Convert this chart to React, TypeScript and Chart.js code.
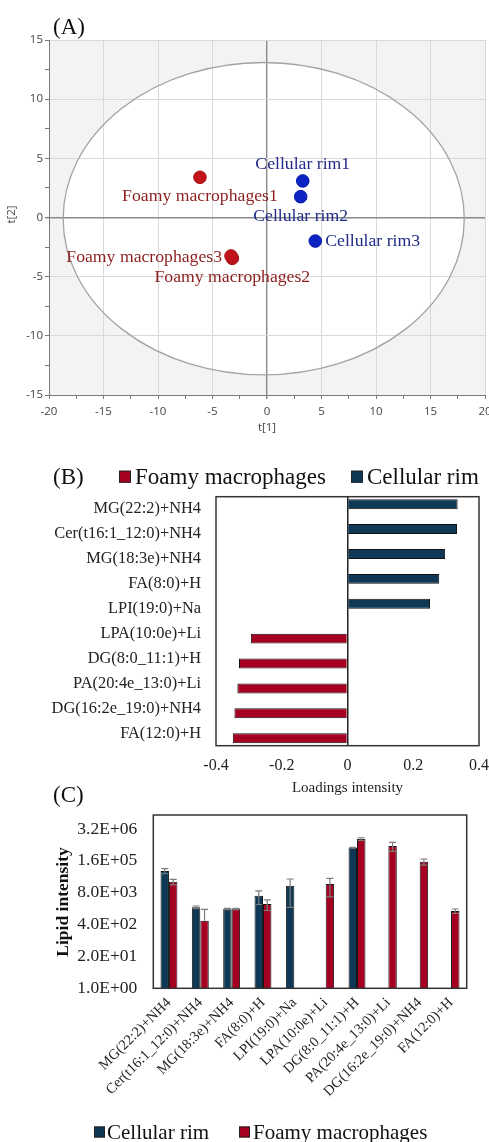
import React, { useEffect, useRef } from 'react';
import { Chart, registerables } from 'chart.js';

Chart.register(...registerables);

const SERIF = '"Liberation Serif", "Times New Roman", Times, serif';
const SANS = '"Open Sans", "Noto Sans", "DejaVu Sans", sans-serif';

const FOAMY_RED = '#a50021';
const RIM_NAVY = '#0e3856';

// ---------- Panel A: score plot ----------
const foamyScoreNames = ['Foamy macrophages1', 'Foamy macrophages2', 'Foamy macrophages3'];
const foamyScoreT1 = [-6.15, -3.18, -3.3];
const foamyScoreT2 = [3.4, -3.45, -3.25];
const rimScoreNames = ['Cellular rim1', 'Cellular rim2', 'Cellular rim3'];
const rimScoreT1 = [3.28, 3.09, 4.43];
const rimScoreT2 = [3.09, 1.76, -1.99];
const scoreT1Range = [-20, 20];
const scoreT2Range = [-15, 15];
const ellipseCenter = [-0.3, -0.1];
const ellipseRadii = [18.4, 13.2];

// ---------- Panel B: loadings ----------
const lipids = [
  'MG(22:2)+NH4',
  'Cer(t16:1_12:0)+NH4',
  'MG(18:3e)+NH4',
  'FA(8:0)+H',
  'LPI(19:0)+Na',
  'LPA(10:0e)+Li',
  'DG(8:0_11:1)+H',
  'PA(20:4e_13:0)+Li',
  'DG(16:2e_19:0)+NH4',
  'FA(12:0)+H',
];
const loadingRim = [0.335, 0.333, 0.297, 0.279, 0.251, null, null, null, null, null];
const loadingFoamy = [null, null, null, null, null, -0.294, -0.33, -0.335, -0.344, -0.349];
const loadingTicks = [-0.4, -0.2, 0, 0.2, 0.4];

// ---------- Panel C: lipid intensity ----------
const intensityRim = [62000, 2030, 1730, 6040, 15500, null, 550000, null, null, null];
const intensityRimErr = [14500, 260, 100, 3400, 13500, null, 20000, null, null, null];
const intensityFoamy = [22500, 575, 1730, 2770, null, 18200, 1250000, 646000, 148000, 1430];
const intensityFoamyErr = [5700, 1100, 100, 1270, null, 12800, 150000, 260000, 42000, 300];
const intensityTicks = [1, 20, 400, 8000, 160000, 3200000];
const intensityMax = 1.19e7;

// ---------- label placement (style only) ----------
const foamyLabelPlace = [
  { dx: 0, dy: 19, align: 'center' },
  { dx: 0, dy: 19, align: 'center' },
  { dx: -9, dy: 1, align: 'right' },
];
const rimLabelPlace = [
  { dx: 0, dy: -17, align: 'center' },
  { dx: 0, dy: 20, align: 'center' },
  { dx: 10, dy: 0, align: 'left' },
];

const isMult = (v: number, m: number) => Math.abs(v / m - Math.round(v / m)) < 1e-6;

const sci = (v: any) => {
  const [m, e] = Number(v).toExponential(1).split('e');
  const sign = e[0] === '-' ? '-' : '+';
  const d = e.replace(/^[+-]/, '').padStart(2, '0');
  return `${m}E${sign}${d}`;
};

const noPadX = (h: number) => (s: any) => {
  s.height = h;
  s.paddingLeft = 0;
  s.paddingRight = 0;
};
const noPadY = (w: number) => (s: any) => {
  s.width = w;
  s.paddingTop = 0;
  s.paddingBottom = 0;
};

function useChart(ref: any, make: () => any) {
  useEffect(() => {
    const chart = new Chart(ref.current, make());
    return () => chart.destroy();
  }, []);
}

function drawLegend(ctx: any, items: any[], y: number, size: number, box: number) {
  ctx.save();
  ctx.font = `${size}px ${SERIF}`;
  ctx.textBaseline = 'middle';
  ctx.textAlign = 'left';
  items.forEach((it) => {
    ctx.fillStyle = it.color;
    ctx.fillRect(it.x, y - box / 2, box, box);
    ctx.strokeStyle = '#222';
    ctx.lineWidth = 1;
    ctx.strokeRect(it.x + 0.5, y - box / 2 + 0.5, box - 1, box - 1);
    ctx.fillStyle = '#111';
    ctx.fillText(it.text, it.tx, y + 1);
  });
  ctx.restore();
}

function ellipsePath(ctx: any, x: any, y: any) {
  const cx = x.getPixelForValue(ellipseCenter[0]);
  const cy = y.getPixelForValue(ellipseCenter[1]);
  const rx = Math.abs(x.getPixelForValue(ellipseCenter[0] + ellipseRadii[0]) - cx);
  const ry = Math.abs(y.getPixelForValue(ellipseCenter[1] + ellipseRadii[1]) - cy);
  ctx.beginPath();
  ctx.ellipse(cx, cy, rx, ry, 0, 0, Math.PI * 2);
}

function ScorePlot() {
  const ref = useRef<HTMLCanvasElement>(null);
  useChart(ref, () => {
    const gridColor = (c: any) => {
      const v = c.tick ? c.tick.value : undefined;
      if (v === undefined) return 'rgba(0,0,0,0)';
      if (Math.abs(v) < 1e-9) return '#8a8a8a';
      return isMult(v, 5) ? '#d9d9d9' : 'rgba(0,0,0,0)';
    };
    const gridWidth = (c: any) => (c.tick && Math.abs(c.tick.value) < 1e-9 ? 1.4 : 1);
    const tickFont = { family: SANS, size: 11.5 };
    const decor = {
      id: 'scoreDecor',
      beforeDraw(chart: any) {
        const { ctx, chartArea: a, scales } = chart;
        ctx.save();
        ctx.fillStyle = '#f3f3f3';
        ctx.fillRect(a.left, a.top, a.right - a.left, a.bottom - a.top);
        ellipsePath(ctx, scales.x, scales.y);
        ctx.fillStyle = '#ffffff';
        ctx.fill();
        ctx.restore();
      },
      beforeDatasetsDraw(chart: any) {
        const { ctx, scales } = chart;
        ctx.save();
        ellipsePath(ctx, scales.x, scales.y);
        ctx.strokeStyle = '#a3a3a3';
        ctx.lineWidth = 1.3;
        ctx.stroke();
        ctx.restore();
      },
      afterDatasetsDraw(chart: any) {
        const { ctx } = chart;
        const groups = [
          { names: foamyScoreNames, place: foamyLabelPlace, color: '#8b1f1f' },
          { names: rimScoreNames, place: rimLabelPlace, color: '#1f2b86' },
        ];
        ctx.save();
        ctx.font = `17.7px ${SERIF}`;
        ctx.textBaseline = 'middle';
        groups.forEach((g, di) => {
          const meta = chart.getDatasetMeta(di);
          meta.data.forEach((el: any, i: number) => {
            const p = g.place[i];
            ctx.fillStyle = g.color;
            ctx.textAlign = p.align;
            ctx.fillText(g.names[i], el.x + p.dx, el.y + p.dy);
          });
        });
        ctx.restore();
      },
      afterDraw(chart: any) {
        const { ctx, chartArea: a } = chart;
        ctx.save();
        ctx.font = `11.5px ${SANS}`;
        ctx.fillStyle = '#444';
        ctx.textAlign = 'center';
        ctx.textBaseline = 'middle';
        ctx.fillText('t[1]', (a.left + a.right) / 2, 428);
        ctx.translate(12, (a.top + a.bottom) / 2 - 3);
        ctx.rotate(-Math.PI / 2);
        ctx.fillText('t[2]', 0, 0);
        ctx.restore();
      },
    };
    return {
      type: 'scatter',
      data: {
        datasets: [
          {
            label: 'Foamy macrophages',
            data: foamyScoreT1.map((t1, i) => ({ x: t1, y: foamyScoreT2[i] })),
            backgroundColor: '#c0141a',
            borderColor: '#a80f14',
            borderWidth: 1,
            pointRadius: 6.3,
          },
          {
            label: 'Cellular rim',
            data: rimScoreT1.map((t1, i) => ({ x: t1, y: rimScoreT2[i] })),
            backgroundColor: '#0d24c4',
            borderColor: '#0a1ca8',
            borderWidth: 1,
            pointRadius: 6.3,
          },
        ],
      },
      options: {
        responsive: false,
        animation: false,
        layout: { autoPadding: false, padding: { left: 0, top: 40, right: 4, bottom: 0 } },
        plugins: { legend: { display: false }, tooltip: { enabled: false } },
        scales: {
          x: {
            type: 'linear',
            min: scoreT1Range[0],
            max: scoreT1Range[1],
            ticks: {
              stepSize: 2.5,
              autoSkip: false,
              maxRotation: 0,
              padding: 6,
              color: '#444',
              font: tickFont,
              callback: (v: any) => (isMult(v, 5) ? String(Math.round(v)) : ''),
            },
            grid: { color: gridColor, lineWidth: gridWidth, tickColor: '#7a7a7a', tickLength: 4 },
            border: { color: '#7a7a7a', width: 1 },
            afterFit: noPadX(45),
          },
          y: {
            type: 'linear',
            min: scoreT2Range[0],
            max: scoreT2Range[1],
            ticks: {
              stepSize: 2.5,
              autoSkip: false,
              padding: 2,
              color: '#444',
              font: tickFont,
              callback: (v: any) => (isMult(v, 5) ? String(Math.round(v)) : ''),
            },
            grid: { color: gridColor, lineWidth: gridWidth, tickColor: '#7a7a7a', tickLength: 4 },
            border: { color: '#7a7a7a', width: 1 },
            afterFit: noPadY(49),
          },
        },
      },
      plugins: [decor],
    };
  });
  return <canvas ref={ref} width={489} height={440} style={{ position: 'absolute', left: 0, top: 0 }} />;
}

function LoadingsPlot() {
  const ref = useRef<HTMLCanvasElement>(null);
  useChart(ref, () => {
    const decor = {
      id: 'loadDecor',
      afterDraw(chart: any) {
        const { ctx, chartArea: a } = chart;
        ctx.save();
        ctx.strokeStyle = '#333';
        ctx.lineWidth = 1.5;
        ctx.strokeRect(a.left, a.top, a.right - a.left, a.bottom - a.top);
        ctx.font = `15px ${SERIF}`;
        ctx.fillStyle = '#222';
        ctx.textAlign = 'center';
        ctx.textBaseline = 'middle';
        ctx.fillText('Loadings intensity', (a.left + a.right) / 2, 348);
        ctx.restore();
        drawLegend(
          ctx,
          [
            { color: FOAMY_RED, x: 119, tx: 135, text: 'Foamy macrophages' },
            { color: RIM_NAVY, x: 351, tx: 367, text: 'Cellular rim' },
          ],
          36.7,
          23,
          12
        );
      },
    };
    return {
      type: 'bar',
      data: {
        labels: lipids,
        datasets: [
          { label: 'Cellular rim', data: loadingRim, backgroundColor: RIM_NAVY, borderColor: '#111', borderWidth: 1 },
          { label: 'Foamy macrophages', data: loadingFoamy, backgroundColor: FOAMY_RED, borderColor: '#111', borderWidth: 1 },
        ],
      },
      options: {
        indexAxis: 'y',
        responsive: false,
        animation: false,
        layout: { autoPadding: false, padding: { left: 0, right: 10, top: 56.7, bottom: 0 } },
        datasets: { bar: { categoryPercentage: 0.8, barPercentage: 1 } },
        plugins: { legend: { display: false }, tooltip: { enabled: false } },
        scales: {
          x: {
            type: 'linear',
            min: loadingTicks[0],
            max: loadingTicks[loadingTicks.length - 1],
            afterBuildTicks: (s: any) => {
              s.ticks = loadingTicks.map((value) => ({ value }));
            },
            ticks: {
              maxRotation: 0,
              autoSkip: false,
              padding: 10,
              color: '#222',
              font: { family: SERIF, size: 16 },
              callback: (v: any) => (Math.abs(v) < 1e-9 ? '0' : Number(v).toFixed(1)),
            },
            grid: {
              drawTicks: false,
              color: (c: any) => (c.tick && Math.abs(c.tick.value) < 1e-9 ? '#222' : 'rgba(0,0,0,0)'),
              lineWidth: 1.5,
            },
            border: { display: false },
            afterFit: noPadX(54.3),
          },
          y: {
            type: 'category',
            ticks: { autoSkip: false, padding: 15, color: '#222', font: { family: SERIF, size: 16.4 } },
            grid: { display: false, drawTicks: false },
            border: { display: false },
            afterFit: noPadY(216),
          },
        },
      },
      plugins: [decor],
    };
  });
  return <canvas ref={ref} width={489} height={360} style={{ position: 'absolute', left: 0, top: 440 }} />;
}

function IntensityPlot() {
  const ref = useRef<HTMLCanvasElement>(null);
  useChart(ref, () => {
    const errs = [intensityRimErr, intensityFoamyErr];
    const decor = {
      id: 'intDecor',
      afterDatasetsDraw(chart: any) {
        const { ctx } = chart;
        const y = chart.scales.y;
        ctx.save();
        ctx.strokeStyle = '#7d7d7d';
        ctx.lineWidth = 1.2;
        chart.data.datasets.forEach((ds: any, di: number) => {
          const meta = chart.getDatasetMeta(di);
          meta.data.forEach((el: any, i: number) => {
            const v = ds.data[i];
            const e = errs[di][i];
            if (v == null || e == null) return;
            const px = el.x;
            const top = y.getPixelForValue(v + e);
            const low = v - e > 0;
            const bot = low ? y.getPixelForValue(v - e) : y.getPixelForValue(v);
            ctx.beginPath();
            ctx.moveTo(px, top);
            ctx.lineTo(px, bot);
            ctx.moveTo(px - 3.5, top);
            ctx.lineTo(px + 3.5, top);
            if (low) {
              ctx.moveTo(px - 3.5, bot);
              ctx.lineTo(px + 3.5, bot);
            }
            ctx.stroke();
          });
        });
        ctx.restore();
      },
      afterDraw(chart: any) {
        const { ctx, chartArea: a } = chart;
        ctx.save();
        ctx.strokeStyle = '#333';
        ctx.lineWidth = 1.5;
        ctx.strokeRect(a.left, a.top, a.right - a.left, a.bottom - a.top);
        ctx.font = `bold 17.5px ${SERIF}`;
        ctx.fillStyle = '#111';
        ctx.textAlign = 'center';
        ctx.textBaseline = 'middle';
        ctx.translate(63, 102);
        ctx.rotate(-Math.PI / 2);
        ctx.fillText('Lipid intensity', 0, 0);
        ctx.restore();
        drawLegend(
          ctx,
          [
            { color: RIM_NAVY, x: 94, tx: 107, text: 'Cellular rim' },
            { color: FOAMY_RED, x: 239, tx: 253, text: 'Foamy macrophages' },
          ],
          332,
          21,
          11
        );
      },
    };
    return {
      type: 'bar',
      data: {
        labels: lipids,
        datasets: [
          { label: 'Cellular rim', data: intensityRim, backgroundColor: RIM_NAVY, borderColor: '#161616', borderWidth: 1 },
          { label: 'Foamy macrophages', data: intensityFoamy, backgroundColor: FOAMY_RED, borderColor: '#161616', borderWidth: 1 },
        ],
      },
      options: {
        responsive: false,
        animation: false,
        layout: { autoPadding: false, padding: { left: 0, right: 22.3, top: 15, bottom: 0 } },
        datasets: { bar: { categoryPercentage: 0.54, barPercentage: 1 } },
        plugins: { legend: { display: false }, tooltip: { enabled: false } },
        scales: {
          x: {
            type: 'category',
            ticks: {
              autoSkip: false,
              minRotation: 45,
              maxRotation: 45,
              padding: 6,
              color: '#222',
              font: { family: SERIF, size: 14.5 },
            },
            grid: { display: false, drawTicks: false },
            border: { display: false },
            afterFit: noPadX(153.7),
          },
          y: {
            type: 'logarithmic',
            min: intensityTicks[0],
            max: intensityMax,
            afterBuildTicks: (s: any) => {
              s.ticks = intensityTicks.map((value) => ({ value }));
            },
            ticks: { autoSkip: false, padding: 16, color: '#222', font: { family: SERIF, size: 17.5 }, callback: sci },
            grid: { display: false, drawTicks: false },
            border: { display: false },
            afterFit: noPadY(153.3),
          },
        },
      },
      plugins: [decor],
    };
  });
  return <canvas ref={ref} width={489} height={342} style={{ position: 'absolute', left: 0, top: 800 }} />;
}

const panelLabel = (text: string, top: number) => (
  <div
    style={{
      position: 'absolute',
      left: 53,
      top,
      fontFamily: SERIF,
      fontSize: 23,
      lineHeight: '22px',
      color: '#111',
      whiteSpace: 'nowrap',
    }}
  >
    {text}
  </div>
);

export default function App() {
  return (
    <div
      style={{
        position: 'absolute',
        left: 0,
        top: 0,
        width: 489,
        height: 1142,
        overflow: 'hidden',
        background: '#ffffff',
      }}
    >
      <ScorePlot />
      <LoadingsPlot />
      <IntensityPlot />
      {panelLabel('(A)', 16)}
      {panelLabel('(B)', 466)}
      {panelLabel('(C)', 784)}
    </div>
  );
}
